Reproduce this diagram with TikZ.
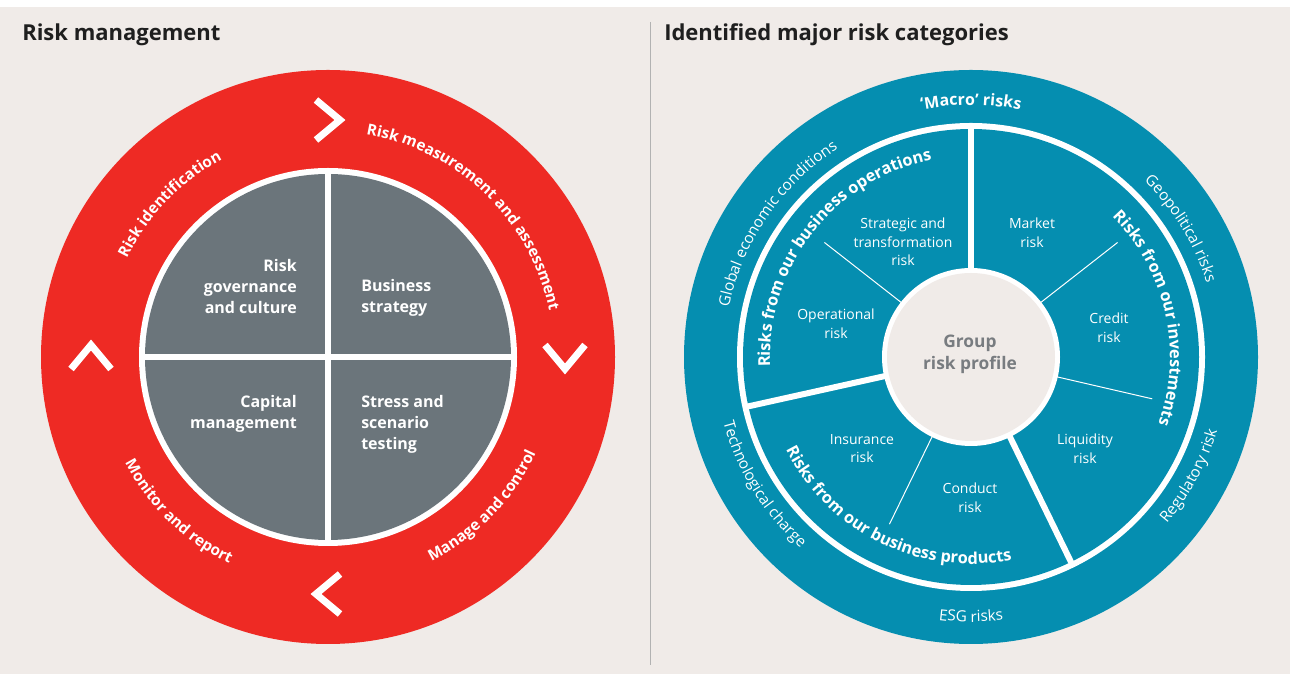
\documentclass[tikz,border=0pt]{standalone}
\usepackage{fontspec}
\setmainfont{Open Sans}
\usepackage{tikz}
\usetikzlibrary{calc, decorations.text}
\usepackage{xcolor}
\definecolor{riskred}{RGB}{238, 42, 36}
\definecolor{riskblue}{RGB}{5, 142, 176}
\definecolor{riskgray}{RGB}{107, 117, 123}
\definecolor{paper}{RGB}{240, 235, 232}
\definecolor{profilegray}{RGB}{120, 124, 128}

\begin{document}
\begin{tikzpicture}[x=0.75pt, y=0.75pt,
      title/.style={font=\bfseries\fontsize{16.5}{19}\selectfont, text=black!88, inner sep=0pt},
      quarter/.style={text=white, font=\bfseries\fontsize{12}{15.75}\selectfont, inner sep=0pt},
      riskitem/.style={text=white, font=\fontsize{10.5}{14}\selectfont, align=center, inner sep=0pt},
      divider/.style={white, line width=4.5pt},
      spoke/.style={white, line width=0.75pt},
      arctext/.style={decorate, decoration={text along path, text align=center, text color=white, text={#1}}},
      chevron/.pic={\draw[white, line width=5.25pt, miter limit=10] (-12,20) -- (12,0) -- (-12,-20);}
   ]
      \useasboundingbox (0,0) rectangle (1290,674);
      \fill[white] (0,0) rectangle (1290,674);
      \fill[paper] (0,0) rectangle (1290,667);

      % Titles and separator
      \node (lefttitle)  [title, anchor=base west] at (22,633)  {Risk management};
      \node (righttitle) [title, anchor=base west] at (664,633) {Identified major risk categories};
      \draw[black!30, line width=0.75pt] (650,652) -- (650,9);

      % Left wheel: risk management
      \coordinate (L) at (328,317);
      \fill[riskred] (L) circle[radius=287];
      \fill[white] (L) circle[radius=189];
      \fill[riskgray] (L) circle[radius=183];
      \draw[divider] ($(L)+(0,-186)$) -- ($(L)+(0,186)$);
      \draw[divider] ($(L)+(-186,0)$) -- ($(L)+(186,0)$);

      \node (gov)    [quarter, align=right, anchor=east] at ($(L)+(-31,70)$)  {Risk\\governance\\and culture};
      \node (bus)    [quarter, align=left,  anchor=west] at ($(L)+(33,59.5)$) {Business\\strategy};
      \node (cap)    [quarter, align=right, anchor=east] at ($(L)+(-31,-56.5)$) {Capital\\management};
      \node (stress) [quarter, align=left,  anchor=west] at ($(L)+(33,-67)$)  {Stress and\\scenario\\testing};

      % Cycle chevrons
      \pic at ($(L)+(90:237)$)  {chevron};
      \pic[rotate=-90] at ($(L)+(0:237)$)   {chevron};
      \pic[rotate=180] at ($(L)+(270:237)$) {chevron};
      \pic[rotate=90]  at ($(L)+(180:237)$) {chevron};

      % Cycle labels
      \path[arctext={|\bfseries\fontsize{11.5}{12}\selectfont|Risk identification}]
         ($(L)+(196:224)$) arc[start angle=196, end angle=76, radius=224];
      \path[arctext={|\bfseries\fontsize{11.5}{12}\selectfont|Risk measurement and assessment}]
         ($(L)+(106:226)$) arc[start angle=106, end angle=-14, radius=226];
      \path[arctext={|\bfseries\fontsize{11.5}{12}\selectfont|Manage and control}]
         ($(L)+(-104:229)$) arc[start angle=-104, end angle=16, radius=229];
      \path[arctext={|\bfseries\fontsize{11.5}{12}\selectfont|Monitor and report}]
         ($(L)+(166:229)$) arc[start angle=166, end angle=286, radius=229];

      % Right wheel: major risk categories
      \coordinate (R) at (971,317);
      \fill[riskblue] (R) circle[radius=287];
      \fill[white] (R) circle[radius=234];
      \fill[riskblue] (R) circle[radius=228];
      \draw[divider] ($(R)+(90:86)$)    -- ($(R)+(90:230)$);
      \draw[divider] ($(R)+(192.5:86)$) -- ($(R)+(192.5:230)$);
      \draw[divider] ($(R)+(296:86)$)   -- ($(R)+(296:230)$);
      \foreach \a in {142, 38, -13, 244}
         \draw[spoke] ($(R)+(\a:88)$) -- ($(R)+(\a:186)$);
      \fill[white] (R) circle[radius=89];
      \fill[paper] (R) circle[radius=84];

      \node (group)   [align=center, inner sep=0pt, text=profilegray, font=\bfseries\fontsize{13}{16.5}\selectfont] at ($(R)+(-1,3)$) {Group\\risk profile};
      \node (strat)   [riskitem] at ($(R)+(-68,115)$)    {Strategic and\\transformation\\risk};
      \node (market)  [riskitem] at ($(R)+(61,124)$)     {Market\\risk};
      \node (oper)    [riskitem] at ($(R)+(-135,33)$)    {Operational\\risk};
      \node (credit)  [riskitem] at ($(R)+(138,29.5)$)   {Credit\\risk};
      \node (insur)   [riskitem] at ($(R)+(-109,-91.5)$) {Insurance\\risk};
      \node (liquid)  [riskitem] at ($(R)+(114,-91.5)$)  {Liquidity\\risk};
      \node (conduct) [riskitem] at ($(R)+(-1,-140.5)$)  {Conduct\\risk};

      % Inner ring labels
      \path[arctext={|\bfseries\fontsize{12.25}{13}\selectfont|Risks from our business operations}]
         ($(R)+(212:201)$) arc[start angle=212, end angle=72, radius=201];
      \path[arctext={|\bfseries\fontsize{12.25}{13}\selectfont|Risks from our investments}]
         ($(R)+(82:199)$) arc[start angle=82, end angle=-57, radius=199];
      \path[arctext={|\bfseries\fontsize{12.25}{13}\selectfont|Risks from our business products}]
         ($(R)+(174:207)$) arc[start angle=174, end angle=314, radius=207];

      % Outer ring labels
      \path[arctext={|\bfseries\fontsize{12}{12}\selectfont|‘Macro’ risks}]
         ($(R)+(130:252)$) arc[start angle=130, end angle=50, radius=252];
      \path[arctext={|\fontsize{11.5}{12}\selectfont|Global economic conditions}]
         ($(R)+(195:247)$) arc[start angle=195, end angle=96, radius=247];
      \path[arctext={|\fontsize{11.5}{12}\selectfont|Geopolitical risks}]
         ($(R)+(71:247)$) arc[start angle=71, end angle=-8, radius=247];
      \path[arctext={|\fontsize{11.5}{12}\selectfont|Regulatory risk}]
         ($(R)+(-68:257)$) arc[start angle=-68, end angle=11, radius=257];
      \path[arctext={|\fontsize{11.5}{12}\selectfont|ESG risks}]
         ($(R)+(230:265)$) arc[start angle=230, end angle=310, radius=265];
      \path[arctext={|\fontsize{11.5}{12}\selectfont|Technological charge}]
         ($(R)+(172:256)$) arc[start angle=172, end angle=251, radius=256];
   \end{tikzpicture}
\end{document}
